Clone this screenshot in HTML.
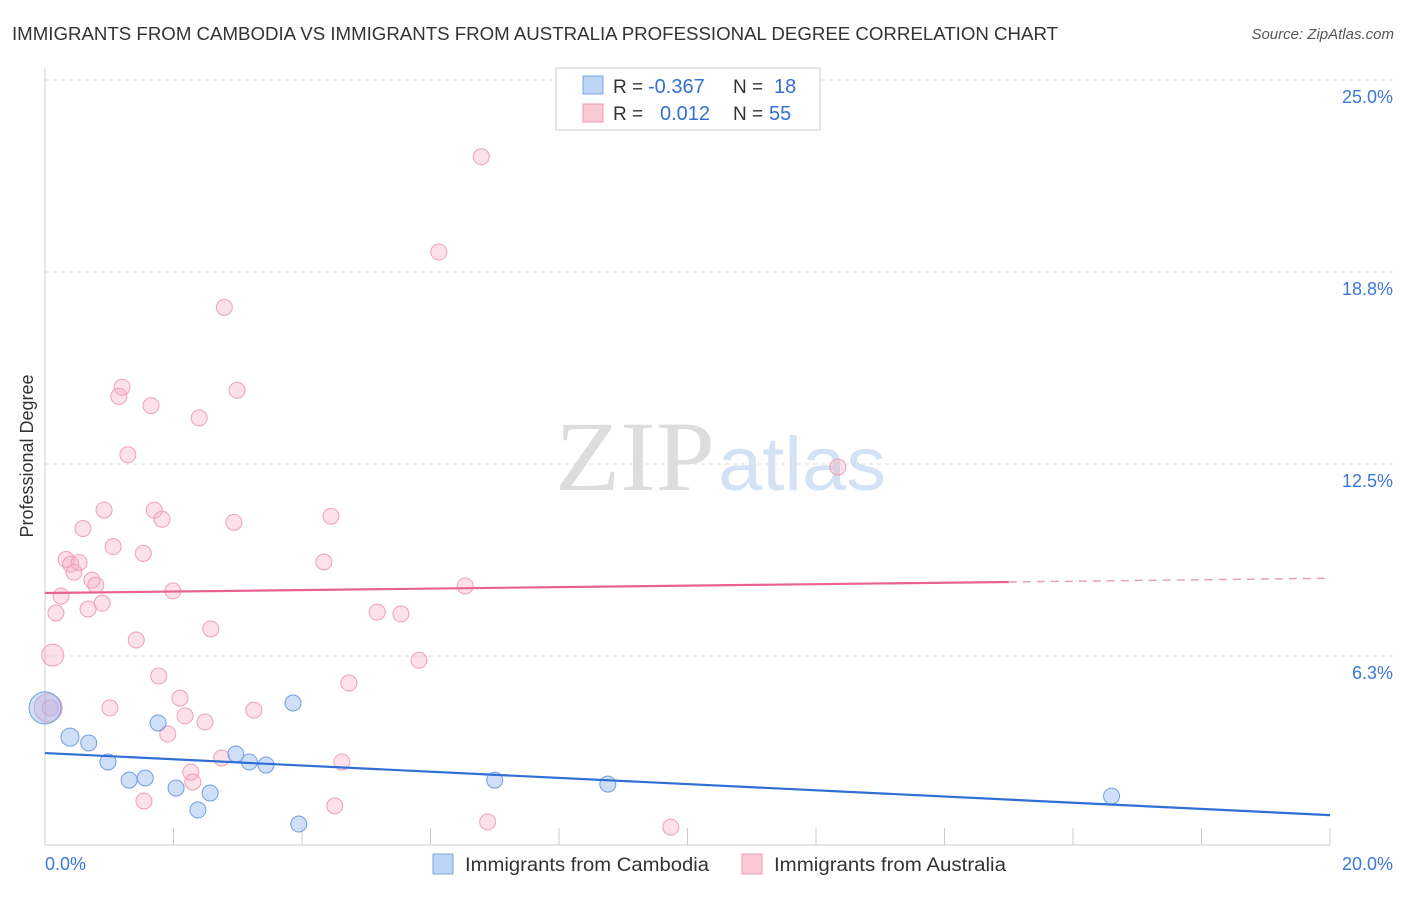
<!DOCTYPE html>
<html><head><meta charset="utf-8"><style>
body{margin:0;background:#fff;font-family:"Liberation Sans",sans-serif}
</style></head><body>
<svg id="c" width="1406" height="892" xmlns="http://www.w3.org/2000/svg">
<text x="12" y="40" font-size="18" fill="#333" textLength="1046" lengthAdjust="spacingAndGlyphs">IMMIGRANTS FROM CAMBODIA VS IMMIGRANTS FROM AUSTRALIA PROFESSIONAL DEGREE CORRELATION CHART</text>
<text x="1394" y="39" font-size="15" fill="#555" font-style="italic" text-anchor="end">Source: ZipAtlas.com</text>
<text x="33" y="456" font-size="18" fill="#333" text-anchor="middle" transform="rotate(-90 33 456)">Professional Degree</text>
<text x="555" y="490" font-size="100" fill="#ddd" textLength="160" lengthAdjust="spacingAndGlyphs" font-family="Liberation Serif">ZIP</text>
<text x="718" y="490" font-size="76" fill="#d4e2f5" textLength="168" lengthAdjust="spacingAndGlyphs">atlas</text>
<g id="grid"></g><g id="axes"></g><g id="marks"></g>
<g>
<rect x="556" y="68" width="264" height="62" fill="#fff" stroke="#ccc"/>
<rect x="583" y="76" width="20" height="18" fill="#bcd4f6" stroke="#7aa6e6"/>
<rect x="583" y="104" width="20" height="18" fill="#f9c9d6" stroke="#ee9ab2"/>
<text x="613" y="93" font-size="19" fill="#333">R =</text>
<text x="648" y="93" font-size="20" fill="#3570d0">-0.367</text>
<text x="733" y="93" font-size="19" fill="#333">N =</text>
<text x="774" y="93" font-size="20" fill="#3570d0">18</text>
<text x="613" y="120" font-size="19" fill="#333">R =</text>
<text x="660" y="120" font-size="20" fill="#3570d0">0.012</text>
<text x="733" y="120" font-size="19" fill="#333">N =</text>
<text x="769" y="120" font-size="20" fill="#3570d0">55</text>
</g>
<g>
<rect x="433" y="854" width="20" height="20" fill="#bcd4f6" stroke="#7aa6e6"/>
<text x="465" y="871" font-size="19" fill="#333" textLength="244" lengthAdjust="spacingAndGlyphs">Immigrants from Cambodia</text>
<rect x="742" y="854" width="20" height="20" fill="#f9c9d6" stroke="#ee9ab2"/>
<text x="774" y="871" font-size="19" fill="#333" textLength="232" lengthAdjust="spacingAndGlyphs">Immigrants from Australia</text>
</g>
</svg>
<script>
const yTicks=[6.25,12.5,18.75,25];
const yTickLabels=["6.3%","12.5%","18.8%","25.0%"];
const xTickLabels=["0.0%","20.0%"];
const camX=[0,0.39,0.68,0.98,1.31,1.56,1.76,2.04,2.38,2.57,2.97,3.18,3.44,3.86,3.95,7.00,8.76,16.6];
const camY=[4.56,3.61,3.42,2.80,2.21,2.28,4.07,1.95,1.24,1.79,3.06,2.80,2.70,4.72,0.78,2.21,2.08,1.69];
const ausX=[6.79,6.13,2.79,1.20,2.99,1.15,1.65,2.40,1.29,12.34,0.92,1.70,1.82,4.45,2.94,0.59,1.06,1.53,0.33,0.53,0.40,0.45,4.34,0.73,0.79,6.54,1.99,0.25,0.89,0.67,0.17,5.17,5.54,2.58,1.42,0.12,5.82,1.77,4.73,2.10,1.01,3.25,2.18,2.49,1.91,2.75,4.62,2.27,2.30,1.54,4.51,6.89,9.74,0.08,0.05];
const ausY=[22.5,19.4,17.6,15.0,14.9,14.7,14.4,14.0,12.8,12.4,11.0,11.0,10.7,10.8,10.6,10.4,9.81,9.59,9.39,9.29,9.24,8.98,9.31,8.72,8.56,8.53,8.37,8.20,7.97,7.78,7.65,7.68,7.62,7.13,6.77,6.28,6.11,5.60,5.37,4.88,4.56,4.49,4.30,4.10,3.71,2.93,2.80,2.47,2.15,1.53,1.37,0.85,0.68,4.56,4.56];
const ausR=[8,8,8,8,8,8,8,8,8,8,8,8,8,8,8,8,8,8,8,8,8,8,8,8,8,8,8,8,8,8,8,8,8,8,8,11,8,8,8,8,8,8,8,8,8,8,8,8,8,8,8,8,8,8,14];
const camR=[16,9,8,8,8,8,8,8,8,8,8,8,8,8,8,8,8,8];
const camTrend=[3.09,-0.101]; // intercept, slope
const ausTrend=[8.30,0.024];
const X=v=>45+v/20*1285, Y=v=>848-v/6.25*192;
const NS="http://www.w3.org/2000/svg";
function mk(t,a,p){const e=document.createElementNS(NS,t);for(const k in a)e.setAttribute(k,a[k]);p.appendChild(e);return e;}
const grid=document.getElementById('grid'),axes=document.getElementById('axes'),marks=document.getElementById('marks');
yTicks.forEach((t,i)=>{
 const l=mk('line',{x1:45,x2:1394,y1:Y(t),y2:Y(t),stroke:'#ddd','stroke-dasharray':'4,4'},grid);
 
 
 const tx=mk('text',{x:1393,y:Y(t)+23,'font-size':18,fill:'#3b78d8','text-anchor':'end'},axes);
 tx.textContent=yTickLabels[i];
 
 
});
const ax=mk('line',{x1:45,x2:45,y1:68,y2:845,stroke:'#ccc'},axes);


const bx=mk('line',{x1:45,x2:1330,y1:845,y2:845,stroke:'#ccc'},axes);


for(let i=0;i<=10;i++){const t=mk('line',{x1:X(i*2),x2:X(i*2),y1:828,y2:845,stroke:'#ccc'},axes);
 
 }
[[0,'start',45],[20,'end',1393]].forEach((d,i)=>{const t=mk('text',{x:d[2],y:870,'font-size':18,fill:'#3b78d8','text-anchor':d[1]},axes);t.textContent=xTickLabels[i];
 
 });
ausX.forEach((x,i)=>{const c=mk('circle',{cx:X(x),cy:Y(ausY[i]),r:ausR[i],fill:'rgba(246,170,195,0.35)',stroke:'#eea0b8','stroke-width':1},marks);
 
 });
camX.forEach((x,i)=>{const c=mk('circle',{cx:X(x),cy:Y(camY[i]),r:camR[i],fill:'rgba(150,185,240,0.45)',stroke:'#6f9fe0','stroke-width':1},marks);
 
 });
const f=(t,x)=>t[0]+t[1]*x;
let l=mk('line',{x1:X(0),y1:Y(f(camTrend,0)),x2:X(20),y2:Y(f(camTrend,20)),stroke:'#2f6fd6','stroke-width':2.2},marks);


l=mk('line',{x1:X(0),y1:Y(f(ausTrend,0)),x2:X(15),y2:Y(f(ausTrend,15)),stroke:'#e8628c','stroke-width':2.2},marks);


l=mk('line',{x1:X(15),y1:Y(f(ausTrend,15)),x2:X(20),y2:Y(f(ausTrend,20)),stroke:'#e8a0b6','stroke-width':1.5,'stroke-dasharray':'8,6'},marks);


</script>
</body></html>
